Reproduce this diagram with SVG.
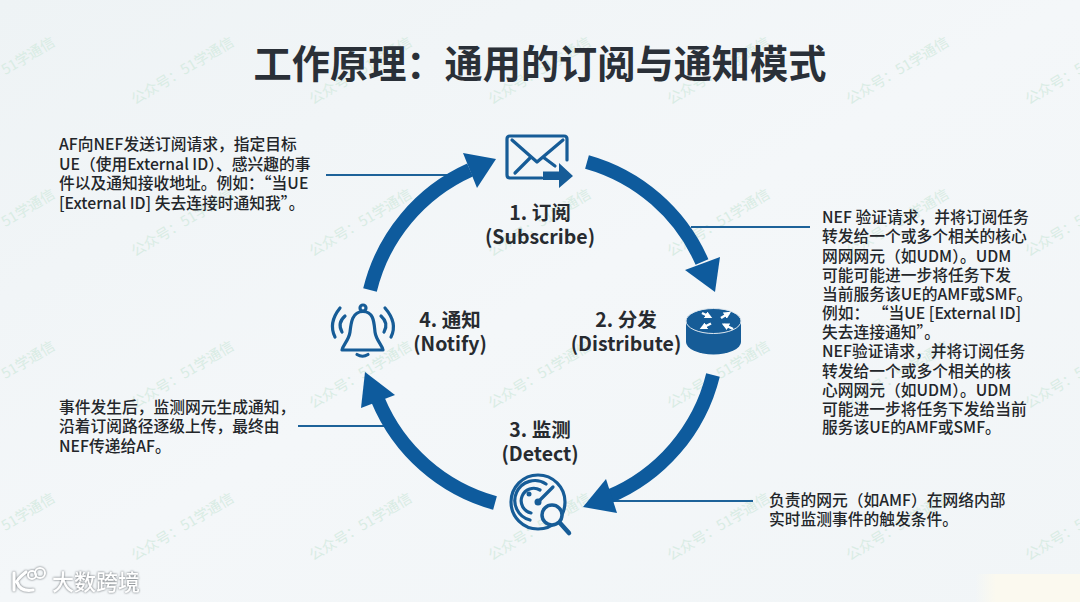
<svg xmlns="http://www.w3.org/2000/svg" xmlns:xlink="http://www.w3.org/1999/xlink" width="1080" height="602" viewBox="0 0 1080 602">
<style>
text{font-family:"Noto Sans CJK SC","Noto Sans",sans-serif}
.wm{font-size:14.4px;fill:#d9ece4}
.title{font-size:38.2px;font-weight:700;fill:#2a3038;text-anchor:middle}
.body{font-size:15.75px;font-weight:500;fill:#23262a}
.lbl{font-size:19.5px;font-weight:700;fill:#272b30;text-anchor:middle}
.arc{fill:none;stroke:#0e5b9d;stroke-width:14}
.head{fill:#0e5b9d}
.lead{fill:none;stroke:#1d6299;stroke-width:2}
.ic{fill:none;stroke:#165c97;stroke-width:3.2;stroke-linecap:round;stroke-linejoin:round}
.fillic{fill:#165c97}
.logo{fill:none;stroke:#fff;stroke-width:3.2;stroke-linecap:round}
</style>
<defs>
<linearGradient id="bg" x1="0" y1="0" x2="1" y2="1"><stop offset="0" stop-color="#eef3f5"/><stop offset=".5" stop-color="#f4f7f9"/><stop offset="1" stop-color="#f1f5f7"/></linearGradient>
<linearGradient id="patch" x1="0" y1="0" x2="1" y2="0"><stop offset="0" stop-color="#fbf9ef" stop-opacity="0"/><stop offset=".2" stop-color="#fbf9ef"/></linearGradient>
<text id="w" class="wm" transform="rotate(-31)">公众号：51学通信</text>
<marker id="wa" viewBox="0 0 6 6" refX="4" refY="3" markerWidth="3" markerHeight="3" orient="auto"><path d="M0,0L6,3L0,6Z" fill="#fff"/></marker>
</defs>
<rect width="1080" height="602" fill="url(#bg)"/>
<rect x="975" y="574" width="105" height="28" fill="url(#patch)"/>
<g id="watermarks">
<use xlink:href="#w" x="-44" y="105"/><use xlink:href="#w" x="135" y="105"/><use xlink:href="#w" x="313" y="105"/><use xlink:href="#w" x="492" y="105"/><use xlink:href="#w" x="671" y="105"/><use xlink:href="#w" x="850" y="105"/><use xlink:href="#w" x="1029" y="105"/>
<use xlink:href="#w" x="-44" y="257"/><use xlink:href="#w" x="135" y="257"/><use xlink:href="#w" x="313" y="257"/><use xlink:href="#w" x="492" y="257"/><use xlink:href="#w" x="671" y="257"/><use xlink:href="#w" x="850" y="257"/><use xlink:href="#w" x="1029" y="257"/>
<use xlink:href="#w" x="-44" y="409"/><use xlink:href="#w" x="135" y="409"/><use xlink:href="#w" x="313" y="409"/><use xlink:href="#w" x="492" y="409"/><use xlink:href="#w" x="671" y="409"/><use xlink:href="#w" x="850" y="409"/><use xlink:href="#w" x="1029" y="409"/>
<use xlink:href="#w" x="-44" y="561"/><use xlink:href="#w" x="135" y="561"/><use xlink:href="#w" x="313" y="561"/><use xlink:href="#w" x="492" y="561"/><use xlink:href="#w" x="671" y="561"/><use xlink:href="#w" x="850" y="561"/><use xlink:href="#w" x="1029" y="561"/>
</g>
<text id="title" class="title" x="540" y="78">工作原理：通用的订阅与通知模式</text>
<g id="connectors">
<path class="lead" d="M326,175H448"/><path class="lead" d="M691,227H810"/><path class="lead" d="M298,426H386"/><path class="lead" d="M610,501H753"/>
<path class="arc" d="M587,162A178,178 0 0 1 702,262"/><polygon class="head" points="715,292 685,270 720,257"/>
<path class="arc" d="M713,375A178,178 0 0 1 608,497"/><polygon class="head" points="583,507 606,479 617,513"/>
<path class="arc" d="M495,503A178,178 0 0 1 378,400"/><polygon class="head" points="365,372 361,408 395,395"/>
<path class="arc" d="M370,290A178,178 0 0 1 470,170"/><polygon class="head" points="496,159 463,153 477,188"/>
</g>
<g id="node-subscribe">
<path class="ic" d="M542,178H510q-3,0 -3,-3V139q0,-3 3,-3H564q3,0 3,3V160"/>
<path class="ic" d="M512,140L537,162L563,140M515,173L531,157M543,157L555,166"/>
<polygon class="fillic" points="543,171.500 559,171.500 559,163 573,176 559,188 559,180 543,180"/>
<text class="lbl" x="540" y="220">1. 订阅</text>
<text class="lbl" x="540" y="244">(Subscribe)</text>
</g>
<g id="node-distribute">
<path class="fillic" d="M686,322V342A27.500,12.500 0 0 0 741,342V322Z"/>
<ellipse cx="713.500" cy="321" rx="27.500" ry="12.500" fill="#165c97" stroke="#dfe8ef" stroke-width="1"/>
<g stroke="#fff" stroke-width="2.500" fill="none">
<path d="M702,313L710,317" marker-end="url(#wa)"/><path d="M721,318L729,313" marker-end="url(#wa)"/><path d="M711,323.500L702,328" marker-end="url(#wa)"/><path d="M733,329L724,324.500" marker-end="url(#wa)"/>
</g>
<text class="lbl" x="626" y="327">2. 分发</text>
<text class="lbl" x="626" y="351">(Distribute)</text>
</g>
<g id="node-detect">
<circle class="ic" cx="538" cy="502" r="27"/>
<path class="ic" d="M553,487L538,502"/>
<path class="ic" d="M546,484A20,20 0 1 0 530,520M540,490A12.500,12.500 0 1 0 531,513"/>
<circle class="fillic" cx="538" cy="502" r="3.500"/><circle class="fillic" cx="529" cy="494" r="2.500"/>
<circle cx="552" cy="515" r="10" fill="#f4f7f9" stroke="#165c97" stroke-width="3.500"/>
<path class="ic" style="stroke-width:4.500" d="M560,523L569,533"/>
<text class="lbl" x="540" y="437">3. 监测</text>
<text class="lbl" x="540" y="461">(Detect)</text>
</g>
<g id="node-notify">
<circle class="ic" cx="363" cy="308" r="3"/>
<path class="ic" d="M363,311.500C352,311.500 351,323 350,332C349,340 343,345 342,350H383C382,345 376,340 375,332C374,323 374,311.500 363,311.500Z"/>
<path class="ic" d="M357,354.500Q362.500,358 368,354.500"/>
<path class="ic" d="M340,308Q328,323 335,337M345,316Q337,323 342,332M385,308Q398,323 391,337M381,316Q389,323 384,332"/>
<text class="lbl" x="450" y="327">4. 通知</text>
<text class="lbl" x="450" y="351">(Notify)</text>
</g>
<g id="desc-subscribe">
<text class="body" x="59" y="150">AF向NEF发送订阅请求，指定目标</text>
<text class="body" x="59" y="170">UE（使用External ID）、感兴趣的事</text>
<text class="body" x="59" y="189">件以及通知接收地址。例如：“当UE</text>
<text class="body" x="59" y="209">[External ID] 失去连接时通知我”。</text>
</g>
<g id="desc-distribute">
<text class="body" x="822" y="223">NEF 验证请求，并将订阅任务</text>
<text class="body" x="822" y="242">转发给一个或多个相关的核心</text>
<text class="body" x="822" y="262">网网网元（如UDM）。UDM</text>
<text class="body" x="822" y="281">可能可能进一步将任务下发</text>
<text class="body" x="822" y="300">当前服务该UE的AMF或SMF。</text>
<text class="body" x="822" y="319">例如： “当UE [External ID]</text>
<text class="body" x="822" y="338">失去连接通知”。</text>
<text class="body" x="822" y="357">NEF验证请求，并将订阅任务</text>
<text class="body" x="822" y="377">转发给一个或多个相关的核</text>
<text class="body" x="822" y="396">心网网元（如UDM）。UDM</text>
<text class="body" x="822" y="415">可能进一步将任务下发给当前</text>
<text class="body" x="822" y="433">服务该UE的AMF或SMF。</text>
</g>
<g id="desc-detect">
<text class="body" x="769" y="506">负责的网元（如AMF）在网络内部</text>
<text class="body" x="769" y="525">实时监测事件的触发条件。</text>
</g>
<g id="desc-notify">
<text class="body" x="59" y="413">事件发生后，监测网元生成通知，</text>
<text class="body" x="59" y="432">沿着订阅路径逐级上传，最终由</text>
<text class="body" x="59" y="452">NEF传递给AF。</text>
</g>
<g id="logo" style="filter:drop-shadow(0 0 1.2px #5f656a)">
<path class="logo" d="M14,573V590M26,572Q16,580 17,582Q20,592 33,590"/>
<circle class="logo" style="stroke-width:2" cx="32" cy="575" r="4"/><circle class="logo" style="stroke-width:2" cx="40" cy="573" r="5"/>
<text x="52" y="590" font-size="22" font-weight="500" fill="#fff">大数跨境</text>
</g>
</svg>
